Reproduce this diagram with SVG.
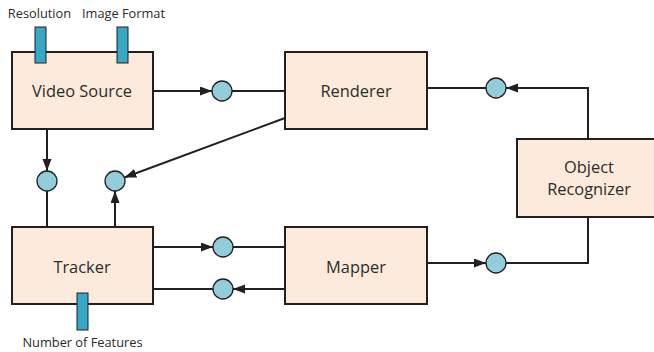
<svg xmlns="http://www.w3.org/2000/svg" width="654" height="352" viewBox="0 0 654 352">
<style>
.box{fill:#FCEBDC;stroke:#231F20;stroke-width:2}
.port{fill:#37A7C6;stroke:#231F20;stroke-width:1}
.dot{fill:#92CDDC;stroke:#231F20;stroke-width:1.3}
.t{font-family:"Open Sans",sans-serif;font-size:16.4px;fill:#2B2B2B;text-anchor:middle}
.s{font-family:"Open Sans",sans-serif;font-size:12.8px;fill:#2B2B2B;text-anchor:middle}
.c{fill:none;stroke:#231F20;stroke-width:2}
</style>
<defs>
<marker id="ah" markerUnits="userSpaceOnUse" markerWidth="13" markerHeight="10" refX="12" refY="4.5" orient="auto">
<path d="M0,0 L12,4.5 L0,9 z" fill="#231F20"/>
</marker>
</defs>
<g id="connectors">
<line class="c" x1="153" y1="91" x2="212" y2="91" marker-end="url(#ah)"/>
<line class="c" x1="232" y1="91" x2="285" y2="91"/>
<line class="c" x1="47" y1="129" x2="47" y2="171" marker-end="url(#ah)"/>
<line class="c" x1="47" y1="227" x2="47" y2="191"/>
<line class="c" x1="115" y1="227" x2="115" y2="191" marker-end="url(#ah)"/>
<line class="c" x1="285" y1="118" x2="124.4" y2="177.5" marker-end="url(#ah)"/>
<line class="c" x1="153" y1="247" x2="213" y2="247" marker-end="url(#ah)"/>
<line class="c" x1="233" y1="247" x2="285" y2="247"/>
<line class="c" x1="285" y1="289" x2="233" y2="289" marker-end="url(#ah)"/>
<line class="c" x1="213" y1="289" x2="153" y2="289"/>
<line class="c" x1="427" y1="263" x2="486" y2="263" marker-end="url(#ah)"/>
<polyline class="c" points="506,263 588,263 588,217"/>
<polyline class="c" points="588,139 588,88 506,88" marker-end="url(#ah)"/>
<line class="c" x1="486" y1="88" x2="427" y2="88"/>
</g>
<g id="video-source">
<rect class="box" x="12" y="52" width="141" height="77"/>
<text class="t" x="82" y="97">Video Source</text>
</g>
<g id="port-resolution">
<rect class="port" x="35" y="27" width="11" height="36"/>
<text class="s" x="39.5" y="18">Resolution</text>
</g>
<g id="port-image-format">
<rect class="port" x="117" y="27" width="11" height="36"/>
<text class="s" x="123.5" y="18">Image Format</text>
</g>
<g id="renderer">
<rect class="box" x="285" y="52" width="142" height="77"/>
<text class="t" x="356" y="97">Renderer</text>
</g>
<g id="object-recognizer">
<rect class="box" x="517" y="139" width="143" height="78"/>
<text class="t" x="589" y="173">Object</text>
<text class="t" x="589" y="195">Recognizer</text>
</g>
<g id="tracker">
<rect class="box" x="12" y="227" width="141" height="77"/>
<text class="t" x="82" y="273">Tracker</text>
</g>
<g id="port-number-of-features">
<rect class="port" x="77" y="293" width="11" height="37"/>
<text class="s" x="82.5" y="347">Number of Features</text>
</g>
<g id="mapper">
<rect class="box" x="285" y="227" width="142" height="77"/>
<text class="t" x="356" y="273">Mapper</text>
</g>
<g id="dots">
<circle id="dot-vs-renderer" class="dot" cx="222" cy="91" r="10"/>
<circle id="dot-vs-tracker" class="dot" cx="47" cy="181" r="10"/>
<circle id="dot-tracker-up" class="dot" cx="115" cy="181" r="10"/>
<circle id="dot-tracker-mapper" class="dot" cx="223" cy="247" r="10"/>
<circle id="dot-mapper-tracker" class="dot" cx="223" cy="289" r="10"/>
<circle id="dot-mapper-or" class="dot" cx="496" cy="263" r="10"/>
<circle id="dot-or-renderer" class="dot" cx="496" cy="88" r="10"/>
</g>
</svg>
